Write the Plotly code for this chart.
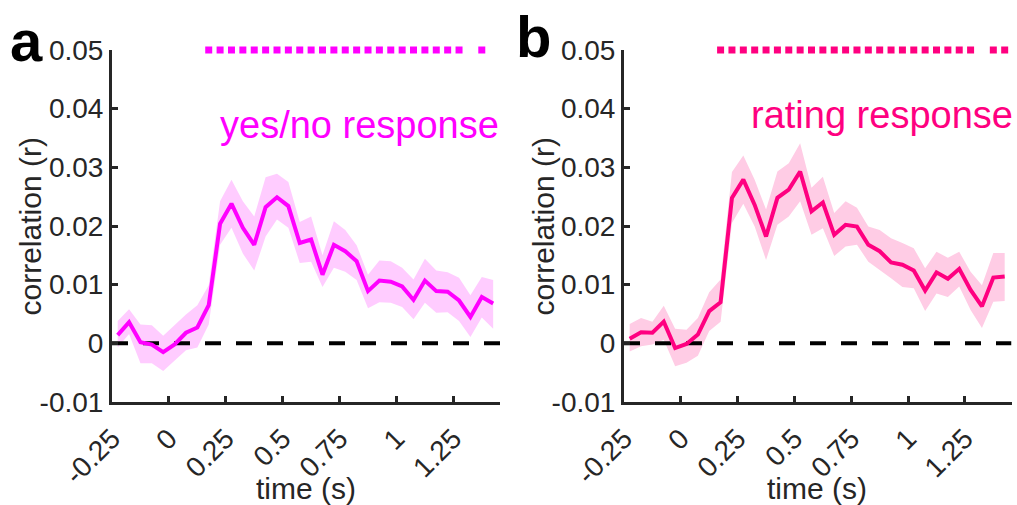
import plotly.graph_objects as go

# ---- data ----
time = [round(-0.225 + 0.05 * i, 3) for i in range(34)]

yesno_mean = [0.0014, 0.0036, 0.0002, -0.0002, -0.0015, -0.0002, 0.0018, 0.0027, 0.0065, 0.0204,
              0.0238, 0.0197, 0.0168, 0.0232, 0.0249, 0.0234, 0.0171, 0.0177, 0.0117, 0.0168,
              0.0157, 0.0140, 0.0089, 0.0107, 0.0105, 0.0097, 0.0074, 0.0107, 0.0089, 0.0088,
              0.0073, 0.0045, 0.0079, 0.0068]
yesno_upper = [0.0038, 0.0058, 0.0032, 0.0031, 0.0013, 0.0031, 0.0049, 0.0065, 0.0099, 0.0242,
               0.0279, 0.0242, 0.0216, 0.0283, 0.0289, 0.0275, 0.0207, 0.0216, 0.0150, 0.0208,
               0.0193, 0.0167, 0.0117, 0.0141, 0.0140, 0.0129, 0.0109, 0.0144, 0.0124, 0.0121,
               0.0112, 0.0082, 0.0113, 0.0108]
yesno_lower = [-0.0007, 0.0016, -0.0034, -0.0034, -0.0047, -0.0030, -0.0012, -0.0007, 0.0032, 0.0168,
               0.0197, 0.0153, 0.0124, 0.0182, 0.0211, 0.0197, 0.0137, 0.0139, 0.0096, 0.0129,
               0.0122, 0.0108, 0.0060, 0.0070, 0.0069, 0.0062, 0.0041, 0.0069, 0.0052, 0.0053,
               0.0038, 0.0011, 0.0044, 0.0025]

rating_mean = [0.0008, 0.0019, 0.0018, 0.0037, -0.0008, -0.0001, 0.0015, 0.0055, 0.0070, 0.0248,
               0.0279, 0.0236, 0.0182, 0.0248, 0.0262, 0.0293, 0.0225, 0.0240, 0.0185, 0.0202,
               0.0199, 0.0168, 0.0157, 0.0138, 0.0134, 0.0124, 0.0090, 0.0121, 0.0110, 0.0127,
               0.0091, 0.0063, 0.0112, 0.0114]
rating_upper = [0.0033, 0.0043, 0.0037, 0.0064, 0.0025, 0.0023, 0.0043, 0.0087, 0.0109, 0.0292,
                0.0320, 0.0279, 0.0228, 0.0293, 0.0307, 0.0341, 0.0265, 0.0284, 0.0222, 0.0242,
                0.0231, 0.0199, 0.0193, 0.0179, 0.0171, 0.0162, 0.0128, 0.0156, 0.0146, 0.0156,
                0.0122, 0.0099, 0.0154, 0.0154]
rating_lower = [-0.0014, -0.0005, -0.0002, 0.0006, -0.0039, -0.0033, -0.0021, 0.0021, 0.0037, 0.0205,
                0.0238, 0.0199, 0.0142, 0.0202, 0.0216, 0.0242, 0.0185, 0.0196, 0.0149, 0.0165,
                0.0168, 0.0139, 0.0125, 0.0111, 0.0096, 0.0094, 0.0055, 0.0085, 0.0079, 0.0097,
                0.0057, 0.0026, 0.0071, 0.0072]

# significant time indices (0-based)
yesno_sig = list(range(8, 31)) + [32]
rating_sig = list(range(8, 31)) + [32, 33]
sig_level = 0.05

x_ticks = [-0.25, 0, 0.25, 0.5, 0.75, 1, 1.25]
x_ticklabels = ["-0.25", "0", "0.25", "0.5", "0.75", "1", "1.25"]
y_ticks = [-0.01, 0, 0.01, 0.02, 0.03, 0.04, 0.05]
y_ticklabels = ["-0.01", "0", "0.01", "0.02", "0.03", "0.04", "0.05"]

FONT = "Arial, Liberation Sans, sans-serif"
AX = "#262626"

panels = [
    dict(mean=yesno_mean, up=yesno_upper, lo=yesno_lower, sig=yesno_sig,
         line="#FF00FF", band="#FFCCFF", label="yes/no response", xa="x", ya="y"),
    dict(mean=rating_mean, up=rating_upper, lo=rating_lower, sig=rating_sig,
         line="#FF0080", band="#FFCCE5", label="rating response", xa="x2", ya="y2"),
]

fig = go.Figure()
for p in panels:
    fig.add_trace(go.Scatter(x=time + time[::-1], y=p["up"] + p["lo"][::-1],
                             fill="toself", fillcolor=p["band"], line=dict(width=0),
                             mode="lines", hoverinfo="skip", showlegend=False,
                             xaxis=p["xa"], yaxis=p["ya"]))
    fig.add_trace(go.Scatter(x=[-0.25, 1.455], y=[0, 0], mode="lines",
                             line=dict(color="black", width=4, dash="16px,15px"),
                             showlegend=False, xaxis=p["xa"], yaxis=p["ya"]))
    fig.add_trace(go.Scatter(x=time, y=p["mean"], mode="lines",
                             line=dict(color=p["line"], width=4),
                             showlegend=False, xaxis=p["xa"], yaxis=p["ya"]))
    fig.add_trace(go.Scatter(x=[time[i] for i in p["sig"]], y=[sig_level] * len(p["sig"]),
                             mode="markers", marker=dict(symbol="square", size=7, color=p["line"]),
                             cliponaxis=False, showlegend=False, xaxis=p["xa"], yaxis=p["ya"]))

xcommon = dict(range=[-0.25, 1.455], tickmode="array", tickvals=x_ticks, ticktext=x_ticklabels,
               tickangle=-45, ticks="inside", ticklen=6, tickwidth=2.5, tickcolor=AX,
               showline=True, linewidth=3, linecolor=AX, showgrid=False, zeroline=False,
               ticklabelstandoff=6,
               tickfont=dict(family=FONT, size=28, color=AX), automargin=False)
ycommon = dict(range=[-0.01, 0.05], tickmode="array", tickvals=y_ticks, ticktext=y_ticklabels,
               ticks="inside", ticklen=6, tickwidth=2.5, tickcolor=AX,
               showline=True, linewidth=3, linecolor=AX, showgrid=False, zeroline=False,
               tickfont=dict(family=FONT, size=28, color=AX), automargin=False)

ydom = [1 - 402 / 505, 1 - 50 / 505]
fig.update_layout(
    width=1017, height=505, margin=dict(l=0, r=0, t=0, b=0),
    plot_bgcolor="white", paper_bgcolor="white",
    xaxis=dict(domain=[112 / 1017, 500 / 1017], anchor="y", **xcommon),
    yaxis=dict(domain=ydom, anchor="x", **ycommon),
    xaxis2=dict(domain=[624 / 1017, 1011.5 / 1017], anchor="y2", **xcommon),
    yaxis2=dict(domain=ydom, anchor="x2", **ycommon),
)

ann = []
# panel labels
ann.append(dict(text="<b>a</b>", x=8 / 1017, y=1 - 41 / 505, xref="paper", yref="paper",
                xanchor="left", yanchor="middle", showarrow=False,
                font=dict(family=FONT, size=58, color="black")))
ann.append(dict(text="<b>b</b>", x=514 / 1017, y=1 - 37 / 505, xref="paper", yref="paper",
                xanchor="left", yanchor="middle", showarrow=False,
                font=dict(family=FONT, size=58, color="black")))
# response labels
ann.append(dict(text=panels[0]["label"], x=501 / 1017, y=1 - 125 / 505, xref="paper", yref="paper",
                xanchor="right", yanchor="middle", showarrow=False,
                font=dict(family=FONT, size=38, color=panels[0]["line"])))
ann.append(dict(text=panels[1]["label"], x=1015 / 1017, y=1 - 115 / 505, xref="paper", yref="paper",
                xanchor="right", yanchor="middle", showarrow=False,
                font=dict(family=FONT, size=38, color=panels[1]["line"])))
# axis titles
for xc, yc_x in [(305.5, 30), (817, 543)]:
    ann.append(dict(text="time (s)", x=xc / 1017, y=1 - 488 / 505, xref="paper", yref="paper",
                    xanchor="center", yanchor="middle", showarrow=False,
                    font=dict(family=FONT, size=30, color=AX)))
    ann.append(dict(text="correlation (r)", x=yc_x / 1017, y=1 - 226.5 / 505, xref="paper", yref="paper",
                    xanchor="center", yanchor="middle", showarrow=False, textangle=-90,
                    font=dict(family=FONT, size=30, color=AX)))
fig.update_layout(annotations=ann)

fig.write_html("out.html", config={"displayModeBar": False},
               post_script="document.body.style.margin='0px';document.body.style.overflow='hidden';")
